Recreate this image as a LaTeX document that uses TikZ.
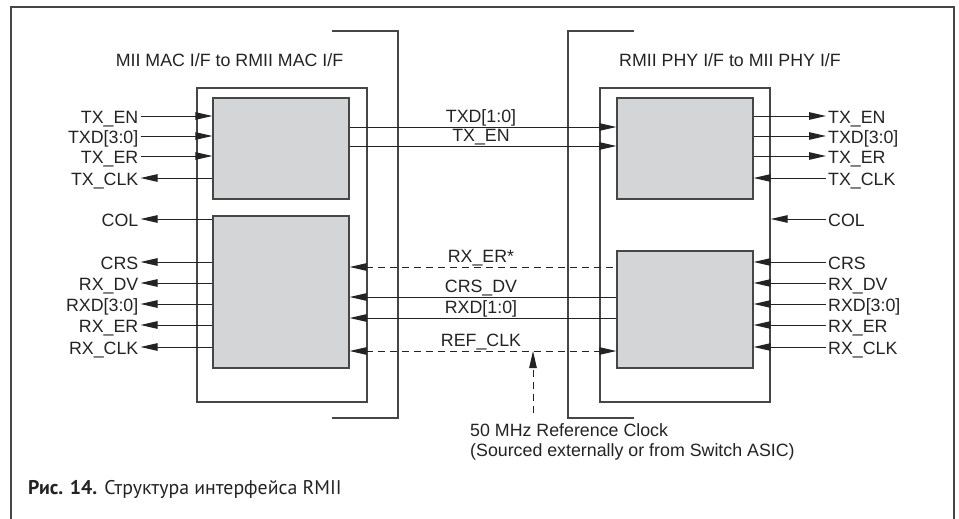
\documentclass[tikz,border=0pt]{standalone}
\usepackage{fontspec}
\setmainfont{Liberation Sans}
\newfontfamily\capfont{PT Sans}
\usetikzlibrary{arrows.meta}
\definecolor{blockgray}{RGB}{212,213,215}
\definecolor{inkgray}{RGB}{35,35,35}
\definecolor{framegray}{RGB}{70,70,70}

\begin{document}
\begin{tikzpicture}[x=1pt,y=-1pt,font=\fontsize{17.8}{20}\selectfont,text=inkgray,
  wire/.style={draw=inkgray,line width=1pt},
  clkwire/.style={wire,dash pattern=on 7pt off 5pt},
  tipfwd/.style={-{Triangle[length=17pt,width=7.5pt]}},
  tipbwd/.style={{Triangle[length=17pt,width=7.5pt]}-},
  tipboth/.style={{Triangle[length=17pt,width=7.5pt]}-{Triangle[length=17pt,width=7.5pt]}},
  block/.style={draw=framegray,line width=1.3pt,fill=blockgray,minimum width=136pt,inner sep=0pt},
  holder/.style={draw=framegray,line width=1.3pt,minimum width=170pt,minimum height=314pt,inner sep=0pt},
  sig/.style={inner xsep=2pt,inner ysep=0pt,text height=14pt,text depth=0pt},
  bus/.style={anchor=south,inner xsep=0pt,inner ysep=4.5pt,text height=13pt,text depth=0pt}]

\useasboundingbox (0,0) rectangle (959,519);

% ============ outer frame and brackets ============
\draw[framegray,line width=1.5pt] (11,519) -- (11,7) -- (954,7) -- (954,519);
\draw[framegray,line width=1.3pt] (332,31) -- (398,31) -- (398,418) -- (332,418);
\draw[framegray,line width=1.3pt] (634,31) -- (568,31) -- (568,418) -- (634,418);

% ============ MAC side ============
\node at (229.5,60) (mactitle) {MII MAC I/F to RMII MAC I/F};
\node[holder] (macframe) at (282,245) {};
\node[block,minimum height=101pt] (mactx) at (281,148.5) {};
\node[block,minimum height=152pt] (macrx) at (281,292) {};
\foreach \y/\sig/\nm in {116/TX\_EN/txen,136/TXD[3:0]/txd,156/TX\_ER/txer}{
  \node[sig,anchor=east] (ml-\nm) at (140.5,\y) {\sig};
  \draw[wire,tipfwd] (ml-\nm) -- (ml-\nm -| mactx.west);
}
\node[sig,anchor=east] (ml-txclk) at (140.5,178) {TX\_CLK};
\draw[wire,tipbwd] (ml-txclk) -- (ml-txclk -| mactx.west);
\foreach \y/\sig/\nm in {219/COL/col,262/CRS/crs,283/RX\_DV/rxdv,304/RXD[3:0]/rxd,325/RX\_ER/rxer,347/RX\_CLK/rxclk}{
  \node[sig,anchor=east] (ml-\nm) at (140.5,\y) {\sig};
  \draw[wire,tipbwd] (ml-\nm) -- (ml-\nm -| macrx.west);
}

% ============ PHY side ============
\node at (730,60) (phytitle) {RMII PHY I/F to MII PHY I/F};
\node[holder] (phyframe) at (685,245) {};
\node[block,minimum height=101pt] (phytx) at (685,148.5) {};
\node[block,minimum height=117pt] (phyrx) at (685,309.5) {};
\foreach \y/\sig/\nm in {116/TX\_EN/txen,136/TXD[3:0]/txd,156/TX\_ER/txer}{
  \node[sig,anchor=west] (pl-\nm) at (826,\y) {\sig};
  \draw[wire,tipfwd] (pl-\nm -| phytx.east) -- (pl-\nm);
}
\node[sig,anchor=west] (pl-txclk) at (826,178) {TX\_CLK};
\draw[wire,tipbwd] (pl-txclk -| phytx.east) -- (pl-txclk);
\node[sig,anchor=west] (pl-col) at (826,219) {COL};
\draw[wire,tipbwd] (pl-col -| phyframe.east) -- (pl-col);
\foreach \y/\sig/\nm in {262/CRS/crs,283/RX\_DV/rxdv,304/RXD[3:0]/rxd,325/RX\_ER/rxer,347/RX\_CLK/rxclk}{
  \node[sig,anchor=west] (pl-\nm) at (826,\y) {\sig};
  \draw[wire,tipbwd] (pl-\nm -| phyrx.east) -- (pl-\nm);
}

% ============ RMII bus ============
\foreach \y/\sig/\nm in {127/TXD[1:0]/txd,146/TX\_EN/txen}{
  \node[bus] (bus-\nm) at (481,\y) {\sig};
  \draw[wire,tipfwd] (mactx.east |- bus-\nm.south) -- (phytx.west |- bus-\nm.south);
}
\node[bus] (bus-rxer) at (481,267) {RX\_ER*};
\draw[clkwire,tipbwd] (macrx.east |- bus-rxer.south) -- (phyrx.west |- bus-rxer.south);
\foreach \y/\sig/\nm in {297/CRS\_DV/crsdv,318/RXD[1:0]/rxd}{
  \node[bus] (bus-\nm) at (481,\y) {\sig};
  \draw[wire,tipbwd] (macrx.east |- bus-\nm.south) -- (phyrx.west |- bus-\nm.south);
}
\node[bus] (bus-refclk) at (481,351) {REF\_CLK};
\draw[clkwire,tipboth] (macrx.east |- bus-refclk.south) -- (phyrx.west |- bus-refclk.south);

% reference clock source
\coordinate (clkjoin) at (533,351);
\node[align=left,anchor=north west,inner sep=2pt] (clksrc) at (468,421)
  {50 MHz Reference Clock\\(Sourced externally or from Switch ASIC)};
\draw[clkwire,tipfwd] ([yshift=8pt]clksrc.north -| clkjoin) -- (clkjoin);

% ============ caption ============
\node[anchor=west,inner sep=2pt,font=\capfont\fontsize{19.8}{22}\selectfont] (caption) at (26,489)
  {\textbf{Рис. 14.} Структура интерфейса RMII};

\end{tikzpicture}
\end{document}
